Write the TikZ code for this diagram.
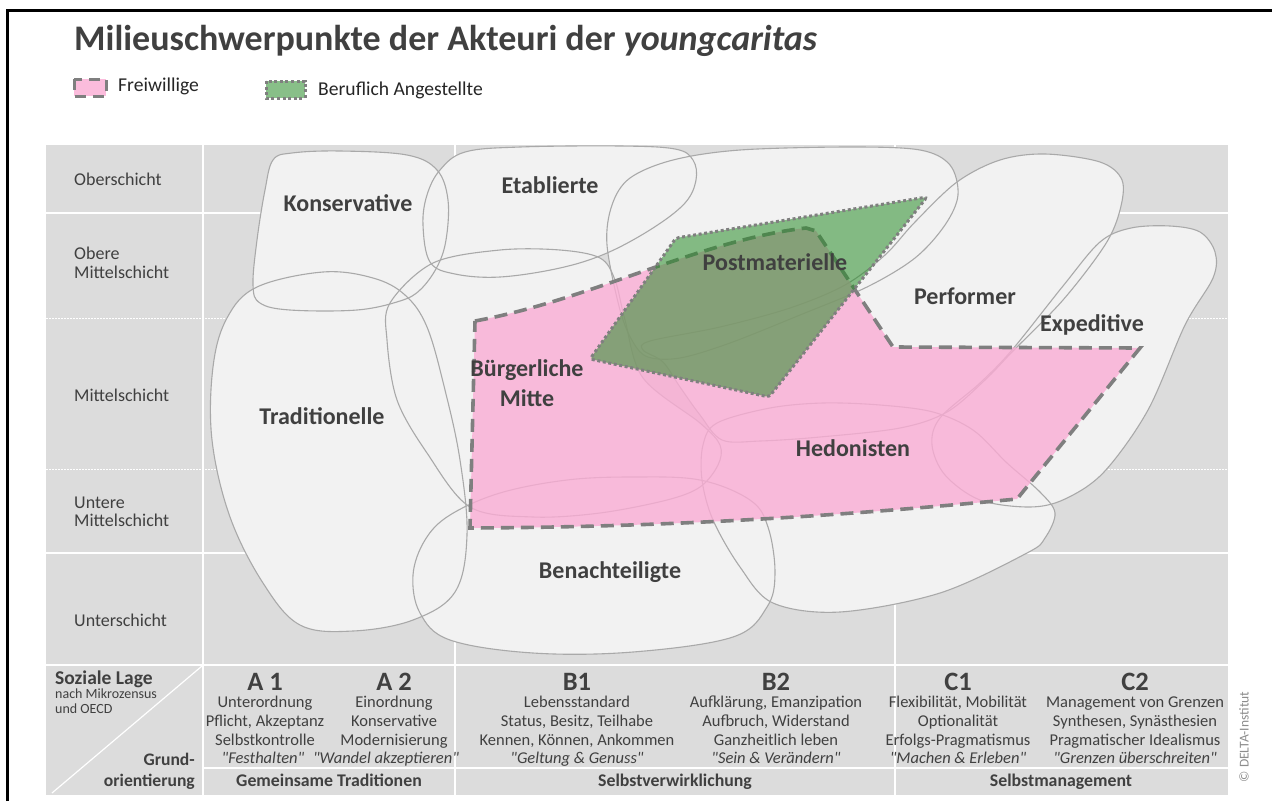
\documentclass[tikz,border=0pt]{standalone}
\usepackage{fontspec}
\setmainfont{Carlito}[Ligatures=TeXOff]
\definecolor{gridbg}{HTML}{DCDCDC}
\definecolor{blobfill}{HTML}{F2F2F2}
\definecolor{blobline}{HTML}{A9A9A9}
\definecolor{txt}{HTML}{404040}
\definecolor{pinkfill}{RGB}{250,172,212}
\definecolor{greenfill}{RGB}{40,140,40}
\definecolor{edgegray}{HTML}{7F7F7F}
\definecolor{copygray}{HTML}{8C8C8C}

% outlines of the milieu areas (1pt = 1px, y grows downwards)
\def\milKons{plot[smooth cycle,tension=0.6] coordinates {(273,160) (292,153) (340,151) (407,155) (437,170) (448,200) (446,240) (437,267) (420,290) (400,301) (357,310) (290,310) (260,303) (253,285) (257,240) (265,190)}}
\def\milEtab{plot[smooth cycle,tension=0.6] coordinates {(423,225) (427,195) (440,170) (465,152) (520,147) (620,146) (675,149) (693,160) (696,180) (685,203) (653,228) (607,253) (560,268) (500,277) (455,274) (430,262)}}
\def\milPost{plot[smooth cycle,tension=0.55] coordinates {(607,245) (612,205) (630,178) (673,160) (740,150) (850,147) (920,150) (950,165) (958,195) (945,225) (915,258) (867,287) (800,315) (730,343) (680,358) (648,357) (633,342) (620,310)}}
\def\milPerf{plot[smooth cycle,tension=0.55] coordinates {(650,341) (720,327) (790,308) (845,285) (885,255) (915,222) (957,182) (1000,160) (1045,154) (1100,162) (1122,180) (1120,210) (1105,245) (1063,300) (1012,352) (985,380) (947,412) (900,428) (820,437) (760,441) (722,440) (700,415) (680,387) (663,362) (643,350)}}
\def\milExpe{plot[smooth cycle,tension=0.55] coordinates {(1131,228) (1170,226) (1200,232) (1215,252) (1213,278) (1185,325) (1148,410) (1104,472) (1065,499) (1030,507) (980,500) (945,475) (932,445) (940,418) (980,383) (1012,350) (1063,286) (1100,242)}}
\def\milBuer{plot[smooth cycle,tension=0.55] coordinates {(390,303) (433,263) (500,250) (560,250) (600,258) (615,280) (625,320) (643,378) (700,423) (720,445) (718,465) (700,487) (667,500) (600,513) (533,517) (470,507) (427,453) (397,400) (387,340)}}
\def\milTrad{plot[smooth cycle,tension=0.6] coordinates {(227,318) (257,287) (323,272) (373,278) (405,295) (427,327) (445,390) (460,460) (467,535) (455,592) (413,620) (353,631) (300,625) (263,583) (230,517) (212,440) (213,367)}}
\def\milHedo{plot[smooth cycle,tension=0.55] coordinates {(717,423) (770,408) (823,403) (880,405) (933,412) (973,430) (1007,463) (1040,492) (1055,513) (1045,538) (1027,553) (940,593) (840,612) (773,603) (740,567) (713,520) (702,480) (703,445)}}
\def\milBena{plot[smooth cycle,tension=0.6] coordinates {(413,575) (425,540) (450,515) (500,493) (567,480) (633,477) (700,480) (750,500) (768,527) (775,573) (767,607) (733,637) (633,652) (533,653) (450,640) (420,613)}}

\begin{document}
\begin{tikzpicture}[x=1pt,y=-1pt,
  area/.style={fill=blobfill},
  areaedge/.style={draw=blobline,line width=1.1pt},
  whiteline/.style={draw=white,line width=2pt},
  dotline/.style={draw=white,line width=1pt,dash pattern=on 1.5pt off 1.5pt},
  volunteer/.style={fill=pinkfill,fill opacity=0.8,draw=edgegray,line width=3.6pt,dash pattern=on 13pt off 7pt},
  staff/.style={fill=greenfill,fill opacity=0.55,draw=edgegray,line width=3pt,dash pattern=on 3pt off 2.6pt},
  rowlabel/.style={anchor=west,inner sep=0pt,text=txt,align=left,font=\fontsize{18}{18.5}\selectfont},
  milieu/.style={inner sep=0pt,text=txt,align=center,font=\bfseries\fontsize{24}{30}\selectfont},
  colhead/.style={anchor=base,inner sep=0pt,text=txt,font=\bfseries\fontsize{26.5}{30}\selectfont},
  coltext/.style={anchor=north,inner sep=0pt,text=txt,align=center,font=\fontsize{16.5}{19}\selectfont},
  colquote/.style={anchor=base,inner sep=0pt,text=txt,font=\itshape\fontsize{16.5}{19}\selectfont},
  grouphead/.style={anchor=base,inner sep=0pt,text=txt,font=\bfseries\fontsize{17.8}{20}\selectfont},
  legendtext/.style={anchor=west,inner sep=0pt,text=black!85,font=\fontsize{19.6}{22}\selectfont}
]
\useasboundingbox (0,0) rectangle (1272,801);
\fill[white] (0,0) rectangle (1272,801);

% frame
\draw[line width=3pt] (7,801) -- (7,10) -- (1272,10);

% title and legend
\node[anchor=base west,inner sep=0pt,text=txt,font=\bfseries\fontsize{36}{40}\selectfont] (title) at (74,50) {Milieuschwerpunkte der Akteuri der \textit{youngcaritas}};
\draw[volunteer,line width=3pt,dash pattern=on 11pt off 7pt] (74,79) rectangle (106,96);
\node[legendtext] (legvol) at (118,86) {Freiwillige};
\draw[staff] (266,81) rectangle (305,98);
\node[legendtext] (legstaff) at (318,90) {Beruflich Angestellte};

% grid
\fill[gridbg] (46,145) rectangle (1228,795);
\draw[whiteline] (203,145) -- (203,795);
\draw[whiteline] (455,145) -- (455,795);
\draw[whiteline] (895,145) -- (895,795);
\draw[whiteline] (46,213) -- (1228,213);
\draw[whiteline] (46,553) -- (1228,553);
\draw[whiteline,line width=2.5pt] (46,665) -- (1228,665);
\draw[whiteline] (203,768) -- (1228,768);
\draw[dotline] (46,318) -- (1228,318);
\draw[dotline] (46,469) -- (1228,469);
\draw[white,line width=1.2pt] (52,793) -- (202,666);

% milieu areas: fills first, then all outlines
\fill[area] \milTrad;
\fill[area] \milKons;
\fill[area] \milEtab;
\fill[area] \milBuer;
\fill[area] \milBena;
\fill[area] \milPost;
\fill[area] \milPerf;
\fill[area] \milExpe;
\fill[area] \milHedo;
\draw[areaedge] \milTrad;
\draw[areaedge] \milKons;
\draw[areaedge] \milEtab;
\draw[areaedge] \milBuer;
\draw[areaedge] \milBena;
\draw[areaedge] \milPost;
\draw[areaedge] \milPerf;
\draw[areaedge] \milExpe;
\draw[areaedge] \milHedo;

% volunteers
\draw[volunteer] (475,321) .. controls (590,300) and (700,240) .. (806,228)
  -- (816,231) -- (893,347) -- (1140,348) -- (1017,499)
  .. controls (880,512) and (700,527) .. (470,528) -- cycle;
% employed staff
\draw[staff,rounded corners=3pt] (590,359) -- (676,238) -- (927,197) -- (769,397) -- cycle;

% milieu names
\node[milieu] (kons) at (348,203) {Konservative};
\node[milieu] (etab) at (550,185) {Etablierte};
\node[milieu] (post) at (775,262) {Postmaterielle};
\node[milieu] (perf) at (965,296) {Performer};
\node[milieu] (expe) at (1092,325) {Expeditive};
\node[milieu] (buer) at (527,383) {Bürgerliche\\Mitte};
\node[milieu] (trad) at (322,416) {Traditionelle};
\node[milieu] (hedo) at (853,448) {Hedonisten};
\node[milieu] (bena) at (610,572) {Benachteiligte};

% social strata
\node[rowlabel] (r1) at (74,179) {Oberschicht};
\node[rowlabel] (r2) at (74,263) {Obere\\Mittelschicht};
\node[rowlabel] (r3) at (74,395) {Mittelschicht};
\node[rowlabel] (r4) at (74,512) {Untere\\Mittelschicht};
\node[rowlabel] (r5) at (74,620) {Unterschicht};

% corner cell
\node[anchor=base west,inner sep=0pt,text=txt,font=\bfseries\fontsize{19.5}{22}\selectfont] (lage) at (55,684) {Soziale Lage};
\node[anchor=base west,inner sep=0pt,text=txt,font=\fontsize{14}{16}\selectfont] (lage2) at (55,698.5) {nach Mikrozensus};
\node[anchor=base west,inner sep=0pt,text=txt,font=\fontsize{14}{16}\selectfont] (lage3) at (55,713.5) {und OECD};
\node[anchor=base east,inner sep=0pt,text=txt,font=\bfseries\fontsize{17.6}{20}\selectfont] (grund1) at (195,765) {Grund-};
\node[anchor=base east,inner sep=0pt,text=txt,font=\bfseries\fontsize{17.6}{20}\selectfont] (grund2) at (195,786.5) {orientierung};

% basic orientations
\node[colhead] (a1h) at (265,690.5) {A 1};
\node[colhead] (a2h) at (394,690.5) {A 2};
\node[colhead] (b1h) at (577,690.5) {B1};
\node[colhead] (b2h) at (776,690.5) {B2};
\node[colhead] (c1h) at (958,690.5) {C1};
\node[colhead] (c2h) at (1135,690.5) {C2};

\node[coltext] (a1t) at (265,695.5) {\vphantom{d}Unterordnung\\Pflicht, Akzeptanz\\Selbstkontrolle};
\node[coltext] (a2t) at (394,695.5) {\vphantom{d}Einordnung\\Konservative\\Modernisierung};
\node[coltext] (b1t) at (577,695.5) {\vphantom{d}Lebensstandard\\Status, Besitz, Teilhabe\\Kennen, Können, Ankommen};
\node[coltext] (b2t) at (776,695.5) {\vphantom{d}Aufklärung, Emanzipation\\Aufbruch, Widerstand\\Ganzheitlich leben};
\node[coltext] (c1t) at (958,695.5) {\vphantom{d}Flexibilität, Mobilität\\Optionalität\\Erfolgs-Pragmatismus};
\node[coltext] (c2t) at (1135,695.5) {\vphantom{d}Management von Grenzen\\Synthesen, Synästhesien\\Pragmatischer Idealismus};

\node[colquote] (a1q) at (263,763) {"Festhalten"};
\node[colquote] (a2q) at (386,763) {"Wandel akzeptieren"};
\node[colquote] (b1q) at (577,763) {"Geltung \& Genuss"};
\node[colquote] (b2q) at (776,763) {"Sein \& Verändern"};
\node[colquote] (c1q) at (958,763) {"Machen \& Erleben"};
\node[colquote] (c2q) at (1135,763) {"Grenzen überschreiten"};

\node[grouphead] (ga) at (329,786.5) {Gemeinsame Traditionen};
\node[grouphead] (gb) at (675,786.5) {Selbstverwirklichung};
\node[grouphead] (gc) at (1061,786.5) {Selbstmanagement};

% copyright
\node[rotate=90,inner sep=0pt,text=copygray,font=\fontsize{13.5}{15}\selectfont] (copy) at (1244,737) {© DELTA-Institut};
\end{tikzpicture}
\end{document}
